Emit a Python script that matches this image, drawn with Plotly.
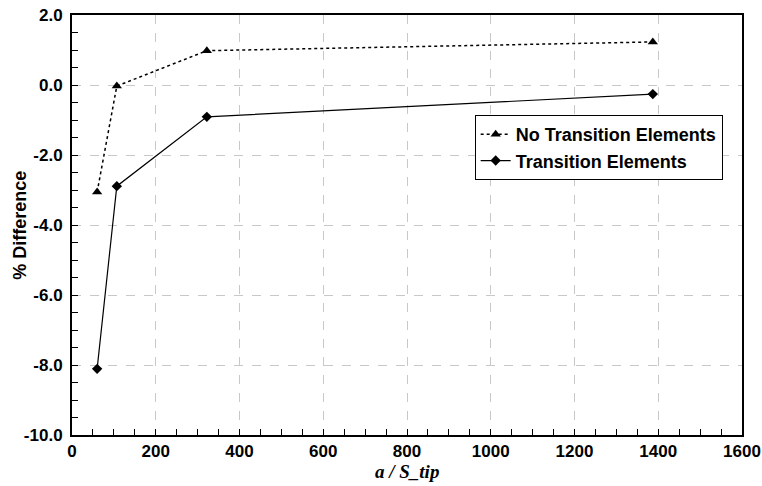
import plotly.graph_objects as go

x_vals = [60, 107, 322, 1387]
no_trans = [-3.06, -0.03, 0.98, 1.23]
trans = [-8.11, -2.89, -0.91, -0.26]

x_ticks = list(range(0, 1601, 200))
y_ticks = [2, 0, -2, -4, -6, -8, -10]

fig = go.Figure()
fig.add_trace(go.Scatter(
    x=x_vals, y=no_trans, mode="lines+markers", name="<b>No Transition Elements</b>",
    line=dict(color="black", width=1.5, dash="dot"),
    marker=dict(symbol="triangle-up", size=9, color="black")))
fig.add_trace(go.Scatter(
    x=x_vals, y=trans, mode="lines+markers", name="<b>Transition Elements</b>",
    line=dict(color="black", width=1.2),
    marker=dict(symbol="diamond", size=8, color="black")))

fig.update_layout(
    width=762, height=486,
    margin=dict(l=72, r=20, t=15, b=51),
    plot_bgcolor="white", paper_bgcolor="white",
    font=dict(family="Liberation Sans, Arial", color="black"),
    showlegend=True,
    legend=dict(x=0.601, y=0.762, xanchor="left", yanchor="top",
                bgcolor="white", bordercolor="black", borderwidth=1,
                font=dict(size=18, family="Liberation Sans, Arial"),
                tracegroupgap=0, itemwidth=30),
    annotations=[
        dict(text="<b>% Difference</b>", xref="paper", yref="paper", x=-0.078, y=0.5,
             textangle=-90, showarrow=False, xanchor="center", yanchor="middle",
             font=dict(size=18, family="Liberation Sans, Arial", color="black")),
        dict(text="<b><i>a / S_tip</i></b>", xref="paper", yref="paper", x=0.5, y=-0.088,
             showarrow=False, xanchor="center", yanchor="middle",
             font=dict(size=19, family="Liberation Serif", color="black")),
    ],
)
fig.update_xaxes(
    range=[0, 1600], tickvals=x_ticks, ticktext=[f"<b>{v}</b>" for v in x_ticks],
    ticks="inside", ticklen=6, tickcolor="black",
    showline=True, linecolor="black", linewidth=2, mirror=True,
    showgrid=True, gridcolor="#c8c8c8", griddash="dash", gridwidth=1,
    minor=dict(dtick=50, ticks="inside", ticklen=6, tickcolor="black", showgrid=False),
    tickfont=dict(size=17),
    zeroline=False, automargin=False,
)
fig.update_yaxes(
    range=[-10, 2], tickvals=y_ticks, ticktext=[f"<b>{v:.1f}</b>" for v in y_ticks],
    ticks="inside", ticklen=6, tickcolor="black",
    showline=True, linecolor="black", linewidth=2, mirror=True,
    showgrid=True, gridcolor="#c8c8c8", griddash="dash", gridwidth=1,
    minor=dict(dtick=0.5, ticks="inside", ticklen=6, tickcolor="black", showgrid=False),
    tickfont=dict(size=17), ticklabelstandoff=4,
    zeroline=False, automargin=False,
)
fig.write_html("out.html")
